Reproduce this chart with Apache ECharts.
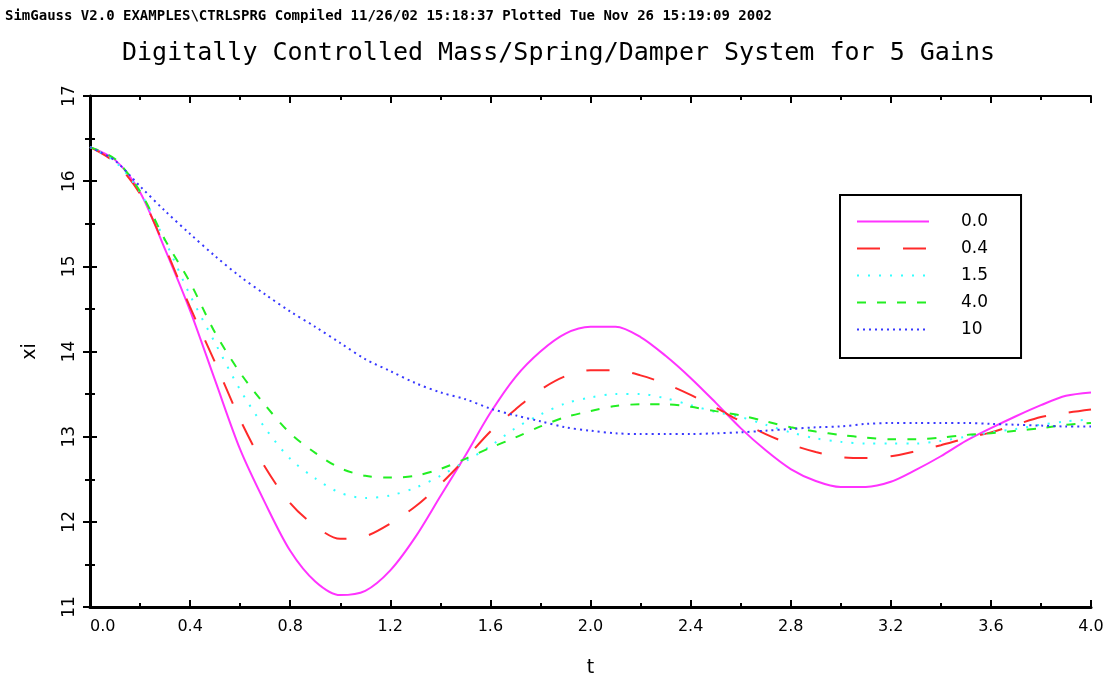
<!DOCTYPE html>
<html>
<head>
<meta charset="utf-8">
<script src="https://cdn.jsdelivr.net/npm/echarts@6/dist/echarts.min.js"></script>
<style>
html,body{margin:0;padding:0;background:#fff;}
#chart{width:1117px;height:683px;}
</style>
</head>
<body>
<div id="chart"></div>
<script>
// time samples (t)
var tValues = [0.0,0.1,0.2,0.3,0.4,0.5,0.6,0.7,0.8,0.9,1.0,1.1,1.2,1.3,1.4,1.5,1.6,1.7,1.8,1.9,2.0,
    2.1,2.2,2.3,2.4,2.5,2.6,2.7,2.8,2.9,3.0,3.1,3.2,3.3,3.4,3.5,3.6,3.7,3.8,3.9,4.0];

// xi for each gain
var gain00 = [16.40,16.25,15.87,15.20,14.48,13.66,12.85,12.22,11.66,11.30,11.14,11.19,11.43,11.82,12.30,12.78,13.28,13.70,14.00,14.21,14.29,
    14.29,14.17,13.95,13.69,13.40,13.10,12.84,12.62,12.48,12.41,12.41,12.47,12.61,12.77,12.95,13.10,13.24,13.37,13.48,13.52];
var gain04 = [16.40,16.22,15.85,15.22,14.52,13.87,13.20,12.64,12.22,11.95,11.80,11.83,11.98,12.18,12.44,12.74,13.06,13.32,13.55,13.71,13.78,
    13.78,13.72,13.62,13.49,13.34,13.18,13.03,12.91,12.82,12.76,12.75,12.77,12.83,12.90,12.98,13.05,13.14,13.23,13.28,13.32];
var gain15 = [16.40,16.23,15.87,15.30,14.66,14.10,13.55,13.10,12.74,12.51,12.34,12.28,12.31,12.40,12.54,12.71,12.89,13.10,13.26,13.39,13.46,
    13.50,13.50,13.45,13.37,13.29,13.23,13.14,13.05,12.98,12.94,12.92,12.92,12.92,12.95,13.00,13.05,13.09,13.14,13.18,13.20];
var gain40 = [16.40,16.26,15.88,15.31,14.81,14.22,13.75,13.37,13.04,12.81,12.63,12.54,12.52,12.54,12.62,12.74,12.87,12.99,13.12,13.23,13.30,
    13.36,13.38,13.38,13.35,13.30,13.25,13.18,13.11,13.06,13.02,12.99,12.97,12.97,12.99,13.02,13.04,13.07,13.10,13.14,13.16];
var gain10 = [16.40,16.24,15.94,15.65,15.38,15.12,14.88,14.67,14.47,14.29,14.10,13.91,13.77,13.63,13.52,13.44,13.33,13.25,13.18,13.11,13.07,
    13.04,13.03,13.03,13.03,13.04,13.05,13.07,13.09,13.11,13.12,13.15,13.16,13.16,13.16,13.16,13.15,13.14,13.13,13.12,13.12];

var gainNames = ['0.0', '0.4', '1.5', '4.0', '10'];

var FONT = '"DejaVu Sans", sans-serif';

function pairs(ys) {
    return tValues.map(function (t, i) { return [t, ys[i]]; });
}

function mkSeries(name, ys, color, dash) {
    return {
        name: name,
        type: 'line',
        xAxisIndex: 0,
        yAxisIndex: 0,
        data: pairs(ys),
        symbol: 'none',
        smooth: 0.3,
        lineStyle: { color: color, width: 2, type: dash },
        itemStyle: { color: color }
    };
}

var chart = echarts.init(document.getElementById('chart'));

var option = {
    animation: false,
    backgroundColor: '#fff',
    graphic: [
        {
            type: 'text', left: 5, top: 9,
            style: {
                text: 'SimGauss V2.0 EXAMPLES\\CTRLSPRG Compiled 11/26/02 15:18:37 Plotted Tue Nov 26 15:19:09 2002',
                font: 'bold 14px "DejaVu Sans Mono", monospace', fill: '#000'
            }
        },
        {
            type: 'text', left: 'center', top: 41,
            style: {
                text: 'Digitally Controlled Mass/Spring/Damper System for 5 Gains',
                font: '25px "DejaVu Sans Mono", monospace', fill: '#000'
            }
        }
    ],
    grid: { left: 90, top: 96, right: 26, bottom: 69 },
    legend: {
        orient: 'vertical',
        left: 840,
        top: 195,
        data: gainNames,
        itemWidth: 72,
        itemHeight: 14,
        itemGap: 10,
        padding: [18, 33, 20, 16],
        borderColor: '#000',
        borderWidth: 2,
        backgroundColor: '#fff',
        itemStyle: { opacity: 0 },
        textStyle: { fontFamily: FONT, fontSize: 17, color: '#000', padding: [0, 0, 0, 27] }
    },
    xAxis: [
        {
            type: 'value', min: 0, max: 4, interval: 0.4,
            name: 't', nameLocation: 'middle', nameGap: 52,
            nameTextStyle: { fontFamily: FONT, fontSize: 19, color: '#000' },
            axisLine: { show: true, lineStyle: { color: '#000', width: 3 } },
            axisTick: { inside: true, length: 7, lineStyle: { color: '#000', width: 2 } },
            minorTick: { show: true, splitNumber: 2, length: 4, lineStyle: { color: '#000', width: 2 } },
            splitLine: { show: false },
            axisLabel: {
                fontFamily: FONT, fontSize: 16, color: '#000', margin: 12,
                alignMinLabel: 'left',
                formatter: function (v) { return v.toFixed(1); }
            }
        },
        {
            type: 'value', position: 'top', min: 0, max: 4, interval: 0.4,
            axisLine: { show: true, lineStyle: { color: '#000', width: 2 } },
            axisTick: { inside: true, length: 7, lineStyle: { color: '#000', width: 2 } },
            minorTick: { show: true, splitNumber: 2, length: 4, lineStyle: { color: '#000', width: 2 } },
            splitLine: { show: false },
            axisLabel: { show: false }
        }
    ],
    yAxis: [
        {
            type: 'value', min: 11, max: 17, interval: 1,
            name: 'xi', nameLocation: 'middle', nameGap: 50, nameRotate: 90,
            nameTextStyle: { fontFamily: FONT, fontSize: 19, color: '#000' },
            axisLine: { show: true, lineStyle: { color: '#000', width: 3 } },
            axisTick: { inside: true, length: 7, lineStyle: { color: '#000', width: 2 } },
            minorTick: { show: true, splitNumber: 2, length: 5, lineStyle: { color: '#000', width: 2 } },
            splitLine: { show: false },
            axisLabel: { fontFamily: FONT, fontSize: 17, color: '#000', margin: 12, rotate: 90 }
        },
        {
            type: 'value', position: 'right', min: 11, max: 17, interval: 1,
            axisLine: { show: true, lineStyle: { color: '#000', width: 2 } },
            axisTick: { inside: true, length: 7, lineStyle: { color: '#000', width: 2 } },
            minorTick: { show: true, splitNumber: 2, length: 5, lineStyle: { color: '#000', width: 2 } },
            splitLine: { show: false },
            axisLabel: { show: false }
        }
    ],
    series: [
        mkSeries('0.0', gain00, '#ff33ff', 'solid'),
        mkSeries('0.4', gain04, '#ff2a2a', [23, 23]),
        mkSeries('1.5', gain15, '#33ffff', [2, 9]),
        mkSeries('4.0', gain40, '#22ee22', [9, 11]),
        mkSeries('10', gain10, '#3838ff', [2, 4])
    ]
};

chart.setOption(option);
</script>
</body>
</html>
